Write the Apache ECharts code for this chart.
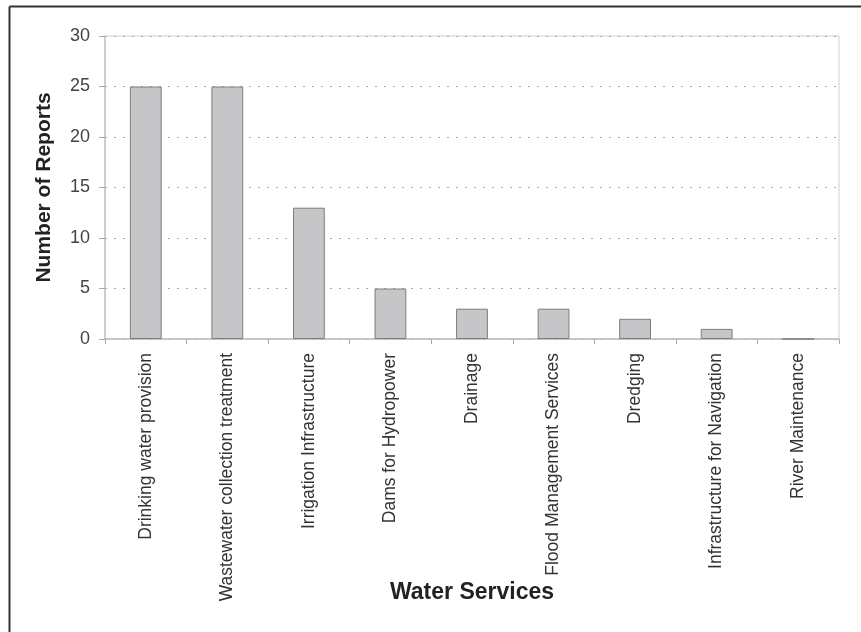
<!DOCTYPE html>
<html>
<head>
<meta charset="utf-8">
<script src="https://cdn.jsdelivr.net/npm/echarts@6/dist/echarts.min.js"></script>
<style>
html,body{margin:0;padding:0;background:#fff;}
#c{width:861px;height:632px;}
</style>
</head>
<body>
<div id="c"></div>
<script>
var categories = ["Drinking water provision","Wastewater collection treatment","Irrigation Infrastructure","Dams for Hydropower","Drainage","Flood Management Services","Dredging","Infrastructure for Navigation","River Maintenance"];
var reports = [25, 25, 13, 5, 3, 3, 2, 1, 0];
var yTicks = [0, 5, 10, 15, 20, 25, 30];

var chart = echarts.init(document.getElementById('c'), null, {renderer:'canvas'});
var font = 'Liberation Sans, Arial, sans-serif';
chart.setOption({
  animation:false,
  backgroundColor:'#fff',
  grid:{left:105, top:36, right:22, bottom:293, show:true, borderColor:'#cfcfcf', borderWidth:1,
        containLabel:false, outerBoundsMode:'none'},
  xAxis:{
    type:'category', data:categories,
    name:'Water Services', nameLocation:'middle', nameGap:242, nameMoveOverlap:false,
    nameTextStyle:{fontFamily:font, fontSize:23, fontWeight:'bold', color:'#222'},
    axisLine:{lineStyle:{color:'#bdbdbd', width:1.5}},
    axisTick:{show:true, length:5, lineStyle:{color:'#aaa'}},
    axisLabel:{rotate:90, margin:14, fontFamily:font, fontSize:17.5, color:'#333', interval:0}
  },
  yAxis:{
    type:'value', min:0, max:30, interval:5,
    name:'Number of Reports', nameLocation:'middle', nameGap:50, nameMoveOverlap:false,
    nameTextStyle:{fontFamily:font, fontSize:21, fontWeight:'bold', color:'#222'},
    axisLine:{show:true, lineStyle:{color:'#c4c4c4', width:1.5}},
    axisTick:{show:true, length:6, lineStyle:{color:'#aaa'}},
    axisLabel:{margin:15, fontFamily:font, fontSize:18, color:'#444',
      formatter:function(v){ return yTicks.indexOf(v) >= 0 ? String(v) : ''; }},
    splitLine:{show:true, lineStyle:{color:'#aaaaaa', type:[2,7], width:1}}
  },
  series:[{
    type:'bar', data:reports, barWidth:'39%',
    itemStyle:{color:'#c6c6c8', borderColor:'#7d7d7d', borderWidth:1}
  }],
  graphic:[
    {type:'line', shape:{x1:9.5, y1:6.5, x2:861, y2:6.5}, style:{stroke:'#333', lineWidth:2}},
    {type:'line', shape:{x1:9.5, y1:6.5, x2:9.5, y2:632}, style:{stroke:'#333', lineWidth:2}}
  ]
});
</script>
</body>
</html>
